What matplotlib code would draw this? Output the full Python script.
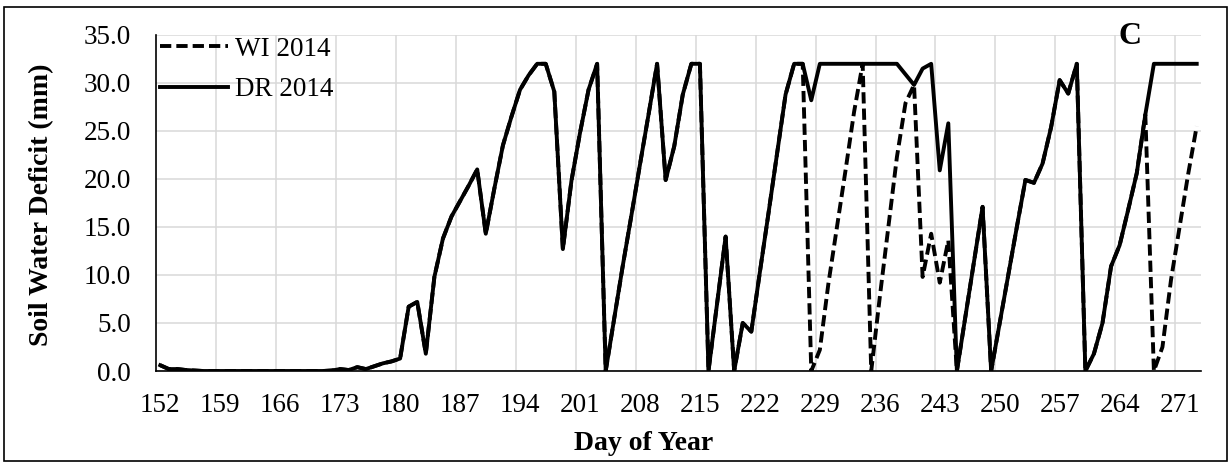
import numpy as np
import matplotlib
matplotlib.use("Agg")
import matplotlib.pyplot as plt
from matplotlib.patches import Rectangle

plt.rcParams['font.family'] = ['Liberation Serif', 'DejaVu Serif']

days = np.arange(152, 274)

dr_2014 = [0.6, 0.2, 0.2, 0.1, 0.05, 0.0, 0.0, 0.0, 0.0, 0.0,   # 152-161
           0.0, 0.0, 0.0, 0.0, 0.0, 0.0, 0.0, 0.0, 0.0, 0.0,     # 162-171
           0.05, 0.2, 0.1, 0.4, 0.2, 0.5, 0.8, 1.0, 1.3, 6.7,    # 172-181
           7.2, 1.8, 9.8, 13.8, 16.1, 17.7, 19.3, 21.0, 14.3, 19.0,  # 182-191
           23.5, 26.5, 29.3, 30.8, 32.0, 32.0, 29.1, 12.7, 19.8, 24.8,  # 192-201
           29.3, 32.0, 0.0, 5.5, 11.0, 16.2, 21.5, 26.7, 32.0, 19.9,  # 202-211
           23.4, 28.8, 32.0, 32.0, 0.0, 7.0, 14.0, 0.0, 5.0, 4.1,   # 212-221
           10.3, 16.4, 22.6, 28.8, 32.0, 32.0, 28.2, 32.0, 32.0, 32.0,  # 222-231
           32.0, 32.0, 32.0, 32.0, 32.0, 32.0, 32.0, 30.9, 29.8, 31.5,  # 232-241
           32.0, 20.9, 25.8, 0.0, 5.7, 11.4, 17.1, 0.0, 5.0, 10.0,  # 242-251
           15.0, 19.9, 19.6, 21.6, 25.4, 30.3, 28.9, 32.0, 0.0, 1.8,  # 252-261
           5.0, 10.9, 13.1, 16.8, 20.6, 26.7, 32.0, 32.0, 32.0, 32.0,  # 262-271
           32.0, 32.0]                                              # 272-273

wi_2014 = [0.6, 0.2, 0.2, 0.1, 0.05, 0.0, 0.0, 0.0, 0.0, 0.0,   # 152-161
           0.0, 0.0, 0.0, 0.0, 0.0, 0.0, 0.0, 0.0, 0.0, 0.0,     # 162-171
           0.05, 0.2, 0.1, 0.4, 0.2, 0.5, 0.8, 1.0, 1.3, 6.7,    # 172-181
           7.2, 1.8, 9.8, 13.8, 16.1, 17.7, 19.3, 21.0, 14.3, 19.0,  # 182-191
           23.5, 26.5, 29.3, 30.8, 32.0, 32.0, 29.1, 12.7, 19.8, 24.8,  # 192-201
           29.3, 32.0, 0.0, 5.5, 11.0, 16.2, 21.5, 26.7, 32.0, 19.9,  # 202-211
           23.4, 28.8, 32.0, 32.0, 0.0, 7.0, 14.0, 0.0, 5.0, 4.1,   # 212-221
           10.3, 16.4, 22.6, 28.8, 32.0, 32.0, 0.0, 2.2, 9.1, 15.0,  # 222-231
           20.9, 27.0, 32.0, 0.0, 7.7, 15.0, 22.3, 27.9, 29.8, 9.8,  # 232-241
           14.3, 9.2, 13.6, 0.0, 5.7, 11.4, 17.1, 0.0, 5.0, 10.0,  # 242-251
           15.0, 19.9, 19.6, 21.6, 25.4, 30.3, 28.9, 32.0, 0.0, 1.8,  # 252-261
           5.0, 10.9, 13.1, 16.8, 20.6, 26.7, 0.0, 2.5, 9.5, 15.0,  # 262-271
           20.5, 25.5]                                              # 272-273

tick_days = np.arange(152, 274, 7)
yticks = np.arange(0, 36, 5)

fig = plt.figure(figsize=(12.31, 4.65), dpi=100)
ax = fig.add_axes([156/1231, 1-371/465, 1045/1231, 336/465])

ax.plot(days, wi_2014, color='black', lw=2.8, linestyle=(0, (2.9, 1.3)),
        solid_joinstyle='round', label='WI 2014', zorder=3)
ax.plot(days, dr_2014, color='black', lw=2.8, solid_joinstyle='round',
        label='DR 2014', zorder=4)

ax.set_xlim(151.5, 273.5)
ax.set_ylim(0, 35)
ax.set_xticks(tick_days)
ax.set_xticklabels([str(d) for d in tick_days])
ax.set_xticks(np.arange(158.5, 274, 7), minor=True)
ax.set_yticks(yticks)
ax.set_yticklabels(['%.1f' % v for v in yticks])
ax.tick_params(axis='both', which='both', length=0, labelsize=19.5)
ax.tick_params(axis='y', pad=18)
ax.tick_params(axis='x', pad=16)

ax.grid(True, axis='y', which='major', color='#d9d9d9', lw=1.1)
ax.grid(True, axis='x', which='minor', color='#d9d9d9', lw=1.1)
ax.grid(False, axis='x', which='major')
ax.set_axisbelow(True)

for s in ['top', 'right']:
    ax.spines[s].set_visible(False)
for s in ['left', 'bottom']:
    ax.spines[s].set_linewidth(1.2)
    ax.spines[s].set_zorder(5)

leg = ax.legend(loc='upper left', bbox_to_anchor=(0.004, 0.995), frameon=False,
                fontsize=19.5, handlelength=2.5, handletextpad=0.25,
                labelspacing=0.57, borderpad=0, borderaxespad=0)

fig.text(42/1231, 1-205/465, 'Soil Water Deficit (mm)', rotation=90,
         ha='center', va='center', fontsize=20, fontweight='bold')
fig.text(644/1231, 1-443/465, 'Day of Year', ha='center', va='center',
         fontsize=20, fontweight='bold')
fig.text(1130/1231, 1-37/465, 'C', ha='center', va='center',
         fontsize=23, fontweight='bold')

fig.patches.append(Rectangle((4/1231, 4/465), 1223/1231, 454/465,
                             transform=fig.transFigure, fill=False,
                             edgecolor='black', lw=1.2))

fig.savefig('out.png', dpi=100)
